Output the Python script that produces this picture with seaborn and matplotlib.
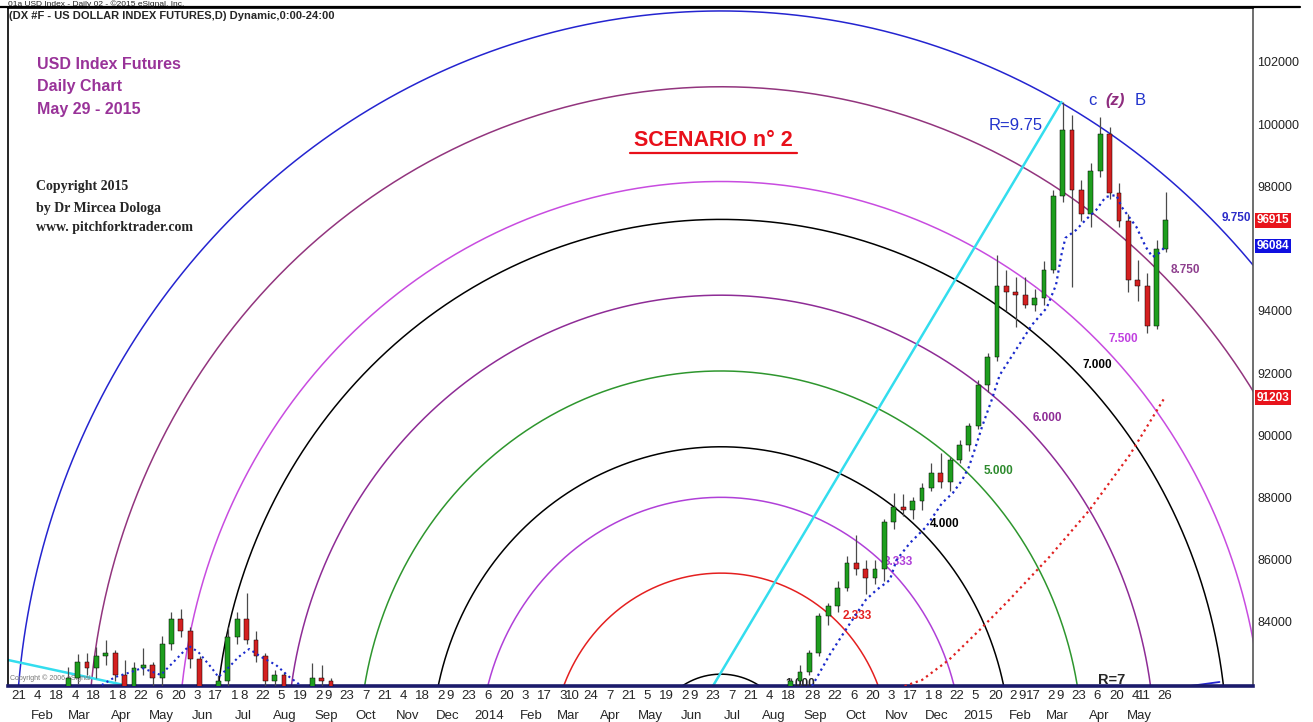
import matplotlib
matplotlib.use('Agg')
import matplotlib.pyplot as plt
import matplotlib.dates as mdates
import matplotlib.transforms as mtransforms
import seaborn as sns
import numpy as np
import pandas as pd

# ============================================================
# DATA (weekly bars)
# ============================================================

week_start = [
    '2013-01-14', '2013-01-21', '2013-01-28', '2013-02-04', '2013-02-11', '2013-02-18',
    '2013-02-25', '2013-03-04', '2013-03-11', '2013-03-18', '2013-03-25', '2013-04-01',
    '2013-04-08', '2013-04-15', '2013-04-22', '2013-04-29', '2013-05-06', '2013-05-13',
    '2013-05-20', '2013-05-27', '2013-06-03', '2013-06-10', '2013-06-17', '2013-06-24',
    '2013-07-01', '2013-07-08', '2013-07-15', '2013-07-22', '2013-07-29', '2013-08-05',
    '2013-08-12', '2013-08-19', '2013-08-26', '2013-09-02', '2013-09-09', '2013-09-16',
    '2014-08-11', '2014-08-18', '2014-08-25', '2014-09-01', '2014-09-08', '2014-09-15',
    '2014-09-22', '2014-09-29', '2014-10-06', '2014-10-13', '2014-10-20', '2014-10-27',
    '2014-11-03', '2014-11-10', '2014-11-17', '2014-11-24', '2014-12-01', '2014-12-08',
    '2014-12-15', '2014-12-22', '2014-12-29', '2015-01-05', '2015-01-12', '2015-01-19',
    '2015-01-26', '2015-02-02', '2015-02-09', '2015-02-16', '2015-02-23', '2015-03-02',
    '2015-03-09', '2015-03-16', '2015-03-23', '2015-03-30', '2015-04-06', '2015-04-13',
    '2015-04-20', '2015-04-27', '2015-05-04', '2015-05-11', '2015-05-18', '2015-05-25',
]
bar_open = [
    79600, 80100, 79700, 79200, 80200, 80800, 81500, 82200, 82700, 82500, 82900, 83000,
    82300, 81900, 82500, 82600, 82200, 83300, 84100, 83700, 82800, 81500, 80900, 82100,
    83500, 84100, 83400, 82900, 82100, 82300, 81300, 81200, 81400, 82200, 82100, 81300,
    81300, 81600, 82100, 82400, 83000, 84200, 84500, 85100, 85900, 85700, 85400, 85700,
    87200, 87700, 87600, 87900, 88300, 88800, 88500, 89200, 89700, 90300, 91600, 92500,
    94800, 94600, 94500, 94200, 94400, 95300, 97700, 99800, 97900, 97100, 98500, 99700,
    97800, 96900, 95000, 94800, 93500, 96000,
]
bar_high = [
    80300, 80200, 79900, 80400, 81000, 81800, 82550, 82950, 83000, 83190, 83420, 83100,
    82770, 82700, 83160, 82700, 83550, 84300, 84410, 83830, 82900, 81700, 82300, 83830,
    84300, 84930, 83700, 83000, 82450, 82400, 81600, 81800, 82680, 82600, 82200, 81500,
    81700, 82200, 82610, 83100, 84280, 84600, 85300, 86100, 86790, 86000, 85990, 87300,
    88140, 88100, 88010, 88460, 89110, 89430, 89300, 89850, 90400, 91780, 92640, 95790,
    95300, 95100, 95090, 94700, 95600, 97900, 100714, 100300, 98200, 98750, 100230, 99900,
    98100, 97100, 95630, 95200, 96280, 97820,
]
bar_low = [
    79500, 79400, 79000, 79100, 79900, 80600, 81200, 82000, 82300, 82200, 82600, 82100,
    81700, 81500, 82300, 81700, 81900, 83100, 83500, 82500, 81200, 80500, 80500, 81900,
    83300, 83300, 82700, 81900, 81700, 81100, 80800, 80900, 81200, 81900, 81200, 80000,
    81100, 81500, 81900, 82300, 82900, 83900, 84300, 85000, 85500, 84900, 85200, 85300,
    87000, 87400, 87300, 87600, 88200, 88300, 88200, 89100, 89500, 90200, 91400, 92400,
    94000, 93480, 94100, 94000, 94200, 95200, 97500, 94770, 96900, 96700, 98300, 97600,
    96700, 94600, 94300, 93290, 93400, 95900,
]
bar_close = [
    80100, 79700, 79200, 80200, 80800, 81500, 82200, 82700, 82500, 82900, 83000, 82300,
    81900, 82500, 82600, 82200, 83300, 84100, 83700, 82800, 81500, 80900, 82100, 83500,
    84100, 83400, 82900, 82100, 82300, 81300, 81200, 81400, 82200, 82100, 81300, 80300,
    81600, 82100, 82400, 83000, 84200, 84500, 85100, 85900, 85700, 85400, 85700, 87200,
    87700, 87600, 87900, 88300, 88800, 88500, 89200, 89700, 90300, 91600, 92500, 94800,
    94600, 94500, 94200, 94400, 95300, 97700, 99800, 97900, 97100, 98500, 99700, 97800,
    96900, 95000, 94800, 93500, 96000, 96915,
]

# short moving average (blue dotted), 2013 and 2014-15 pieces
ma13_dates = ['2013-03-24', '2013-04-03', '2013-04-15', '2013-04-23', '2013-05-03', '2013-05-07',
              '2013-05-18', '2013-05-28', '2013-06-04', '2013-06-14', '2013-06-19', '2013-06-27',
              '2013-07-04', '2013-07-12', '2013-07-21', '2013-08-01', '2013-08-11', '2013-08-19']
ma13_vals = [81968, 82225, 82386, 82515, 82354, 82290, 82773, 83223, 83030, 82515, 82225, 82547,
             82868, 83126, 82868, 82611, 82225, 81968]
ma14_dates = ['2014-09-05', '2014-09-18', '2014-09-30', '2014-10-15', '2014-10-23', '2014-11-02',
              '2014-11-07', '2014-11-17', '2014-11-29', '2014-12-11', '2014-12-19', '2014-12-26',
              '2014-12-31', '2015-01-05', '2015-01-10', '2015-01-17', '2015-01-23', '2015-02-04',
              '2015-02-16', '2015-02-27', '2015-03-06', '2015-03-10', '2015-03-13', '2015-03-21',
              '2015-03-28', '2015-04-05', '2015-04-12', '2015-04-20', '2015-04-24', '2015-05-05',
              '2015-05-12', '2015-05-17', '2015-05-22', '2015-05-27']
ma14_vals = [81936, 82933, 83737, 84701, 85023, 85344, 85987, 86534, 87048, 87820, 88141, 88560,
             88978, 89621, 90296, 91132, 91935, 92740, 93544, 94090, 94830, 95794, 96341, 96598,
             96920, 97242, 97659, 97724, 97338, 96695, 96052, 95730, 95859, 96084]

# long moving average (red dotted)
ma_long_dates = ['2014-11-13', '2014-11-26', '2014-12-16', '2015-01-08', '2015-01-30',
                 '2015-03-01', '2015-03-31', '2015-04-30', '2015-05-26']
ma_long_vals = [81936, 82129, 82772, 83737, 84701, 86084, 87595, 89363, 91203]

# arcs
arc_radii = [1.0, 2.333, 3.333, 4.0, 5.0, 6.0, 7.0, 7.5, 8.75, 9.75]
arc_colors = ['black', '#E42020', '#B040D8', 'black', '#2E962E', '#8E2C96',
              'black', '#C84CE0', '#92357E', '#2424D0']
arc_center_date = '2014-06-29'
arc_center_price = 79880
arc_days_per_r = 53.96
arc_price_per_r = 2437

# cyan lines
cyan_dates = ['2014-06-23', '2015-03-10']
cyan_vals = [81936, 100714]
cyan2_dates = ['2013-01-10', '2013-04-25']
cyan2_vals = [82800, 81825]
blue_seg_dates = ['2015-06-14', '2015-07-06']
blue_seg_vals = [81936, 82065]

# axis ticks
day_ticks = [
    '2013-01-21', '2013-02-04', '2013-02-18', '2013-03-04', '2013-03-18', '2013-04-01',
    '2013-04-08', '2013-04-22', '2013-05-06', '2013-05-20', '2013-06-03', '2013-06-17',
    '2013-07-01', '2013-07-08', '2013-07-22', '2013-08-05', '2013-08-19', '2013-09-02',
    '2013-09-09', '2013-09-23', '2013-10-07', '2013-10-21', '2013-11-04', '2013-11-18',
    '2013-12-02', '2013-12-09', '2013-12-23', '2014-01-06', '2014-01-20', '2014-02-03',
    '2014-02-17', '2014-03-03', '2014-03-10', '2014-03-24', '2014-04-07', '2014-04-21',
    '2014-05-05', '2014-05-19', '2014-06-02', '2014-06-09', '2014-06-23', '2014-07-07',
    '2014-07-21', '2014-08-04', '2014-08-18', '2014-09-02', '2014-09-08', '2014-09-22',
    '2014-10-06', '2014-10-20', '2014-11-03', '2014-11-17', '2014-12-01', '2014-12-08',
    '2014-12-22', '2015-01-05', '2015-01-20', '2015-02-02', '2015-02-09', '2015-02-17',
    '2015-03-02', '2015-03-09', '2015-03-23', '2015-04-06', '2015-04-20', '2015-05-04',
    '2015-05-11', '2015-05-26',
]
# month names sit a few hours off the 7th so they never coincide with a day tick
month_ticks = pd.date_range('2013-02-01', '2015-05-01', freq='MS') + pd.Timedelta(hours=150)
month_labels = ['Feb', 'Mar', 'Apr', 'May', 'Jun', 'Jul', 'Aug', 'Sep', 'Oct', 'Nov', 'Dec',
                '2014', 'Feb', 'Mar', 'Apr', 'May', 'Jun', 'Jul', 'Aug', 'Sep', 'Oct', 'Nov', 'Dec',
                '2015', 'Feb', 'Mar', 'Apr', 'May']
price_ticks = [84000, 86000, 88000, 90000, 92000, 94000, 98000, 100000, 102000]

last_price = 96915
ma_last = 96084
ma_long_last = 91203

# ============================================================
# STYLE
# ============================================================

sns.set_style('white')
plt.rcParams['font.family'] = ['Liberation Sans', 'DejaVu Sans']


def dnum(dates):
    return mdates.date2num(pd.to_datetime(dates))


fig = plt.figure(figsize=(13.13, 7.22), dpi=100)
ax = fig.add_axes([8 / 1313, 36 / 722, 1245 / 1313, 678 / 722])
ax.set_facecolor('white')

# arcs
theta = np.linspace(0, np.pi, 600)
cx = dnum([arc_center_date])[0]
for r, col in zip(arc_radii, arc_colors):
    xs = cx + r * arc_days_per_r * np.cos(theta)
    ys = arc_center_price + r * arc_price_per_r * np.sin(theta)
    ax.plot(xs, ys, color=col, lw=1.1, zorder=2)

# cyan lines
ax.plot(dnum(cyan_dates), cyan_vals, color='#33DDEE', lw=1.8, zorder=2)
ax.plot(dnum(cyan2_dates), cyan2_vals, color='#33DDEE', lw=1.8, zorder=2)
ax.plot(dnum(blue_seg_dates), blue_seg_vals, color='#2424D0', lw=1.3, zorder=2)

# candles
xc = dnum(week_start) + 2
o = np.array(bar_open)
h = np.array(bar_high)
l = np.array(bar_low)
c = np.array(bar_close)
up = c >= o
ax.vlines(xc, l, h, color='#4A4A4A', lw=0.9, zorder=3)
ax.bar(xc[up], (c - o)[up], bottom=o[up], width=3.6, color='#1E9E1E',
       edgecolor='black', linewidth=0.35, zorder=4)
ax.bar(xc[~up], (o - c)[~up], bottom=c[~up], width=3.6, color='#D42020',
       edgecolor='black', linewidth=0.35, zorder=4)

# moving averages
sns.lineplot(x=dnum(ma13_dates), y=ma13_vals, ax=ax, color='#1A2ACC', lw=1.5,
             linestyle=':', estimator=None, sort=False, zorder=5)
sns.lineplot(x=dnum(ma14_dates), y=ma14_vals, ax=ax, color='#1A2ACC', lw=1.6,
             linestyle=':', estimator=None, sort=False, zorder=5)
sns.lineplot(x=dnum(ma_long_dates), y=ma_long_vals, ax=ax, color='#E02020', lw=1.6,
             linestyle=':', estimator=None, sort=False, zorder=5)

# axes
ax.set_xlim(dnum(['2013-01-13'])[0], dnum(['2015-07-31'])[0])
ax.set_ylim(81936, 103736)
ax.set_xticks(dnum(day_ticks))
ax.set_xticklabels([str(pd.Timestamp(d).day) for d in day_ticks])
ax.set_xticks(dnum(month_ticks), minor=True)
ax.set_xticklabels(month_labels, minor=True)
ax.tick_params(axis='x', which='major', length=0, pad=3, labelsize=9.5)
ax.tick_params(axis='x', which='minor', length=0, pad=17, labelsize=9.5)
ax.yaxis.tick_right()
ax.set_yticks(price_ticks)
ax.set_yticklabels([str(v) for v in price_ticks])
ax.tick_params(axis='y', length=0, pad=3, labelsize=9, labelcolor='#222222')
ax.set_xlabel('')
ax.set_ylabel('')

for s in ['left', 'top']:
    ax.spines[s].set_color('black')
    ax.spines[s].set_linewidth(1.2)
ax.spines['right'].set_color('#555555')
ax.spines['right'].set_linewidth(1.2)
ax.spines['bottom'].set_color('#1B1B6B')
ax.spines['bottom'].set_linewidth(2.6)
fig.add_artist(plt.Line2D([0, 0.99], [1 - 7 / 722, 1 - 7 / 722], color='black', lw=1.6))

# value boxes on the price axis
trans = mtransforms.blended_transform_factory(ax.transAxes, ax.transData)
for v, col in [(last_price, '#E8141C'), (ma_last, '#1010E0'), (ma_long_last, '#E8141C')]:
    ax.text(1.003, v, str(v), transform=trans, ha='left', va='center', color='white',
            fontsize=8.5, fontweight='bold', clip_on=False,
            bbox=dict(boxstyle='square,pad=0.12', fc=col, ec='none'))

# texts
T = ax.transAxes
fig.text(0.006, 0.9995, '01a USD Index - Daily 02 - \u00a92015 eSignal, Inc.', va='top',
         fontsize=6, color='#222222')
ax.text(0.001, 0.988, '(DX #F - US DOLLAR INDEX FUTURES,D) Dynamic,0:00-24:00', transform=T,
        va='center', ha='left', fontsize=8, fontweight='bold')
for txt, fy in [('USD Index Futures', 0.917), ('Daily Chart', 0.884), ('May 29 - 2015', 0.851)]:
    ax.text(0.0233, fy, txt, transform=T, va='center', ha='left', fontsize=11.5,
            fontweight='bold', color='#993399')
for txt, fy in [('Copyright 2015', 0.736), ('by Dr Mircea Dologa', 0.705),
                ('www. pitchforktrader.com', 0.676)]:
    ax.text(0.0225, fy, txt, transform=T, va='center', ha='left', fontsize=10,
            fontweight='bold', family=['Liberation Serif', 'DejaVu Serif'])
ax.text(0.5663, 0.8053, 'SCENARIO n\u00b0 2', transform=T, ha='center', va='center',
        fontsize=15.5, fontweight='bold', color='#E8101A')
ax.plot([0.4996, 0.6337], [0.786, 0.786], transform=T, color='#E8101A', lw=1.6)
ax.text(0.809, 0.827, 'R=9.75', transform=T, ha='center', va='center', fontsize=12,
        color='#2233CC')
ax.text(0.8707, 0.864, 'c', transform=T, ha='center', va='center', fontsize=12, color='#2233CC')
ax.text(0.889, 0.864, '(z)', transform=T, ha='center', va='center', fontsize=12,
        fontstyle='italic', fontweight='bold', color='#8E2C7E')
ax.text(0.909, 0.864, 'B', transform=T, ha='center', va='center', fontsize=12, color='#2233CC')
ax.text(0.8867, 0.009, 'R=7', transform=T, ha='center', va='center', fontsize=10.5,
        fontweight='bold')
ax.text(0.636, 0.003, '1.000', transform=T, ha='center', va='center', fontsize=8.5,
        fontweight='bold', clip_on=True)
ax.text(0.002, 0.012, 'Copyright \u00a9 2006 eSignal', transform=T, ha='left', va='center',
        fontsize=5, color='#777777')

arc_labels = [('9.750', 0.987, 0.690, '#2B2BC8'), ('8.750', 0.946, 0.6136, '#8E3F8E'),
              ('7.500', 0.8956, 0.5118, '#C040E0'), ('7.000', 0.8747, 0.4735, 'black'),
              ('6.000', 0.8345, 0.3953, '#8E2C96'), ('5.000', 0.7952, 0.3171, '#2E8B2E'),
              ('4.000', 0.7526, 0.2389, 'black'), ('3.333', 0.7149, 0.1829, '#B040D8'),
              ('2.333', 0.6819, 0.1032, '#E42020')]
for txt, fx, fy, col in arc_labels:
    ax.text(fx, fy, txt, transform=T, ha='center', va='center', fontsize=8.5,
            fontweight='bold', color=col)

fig.savefig('out.png', dpi=100)
